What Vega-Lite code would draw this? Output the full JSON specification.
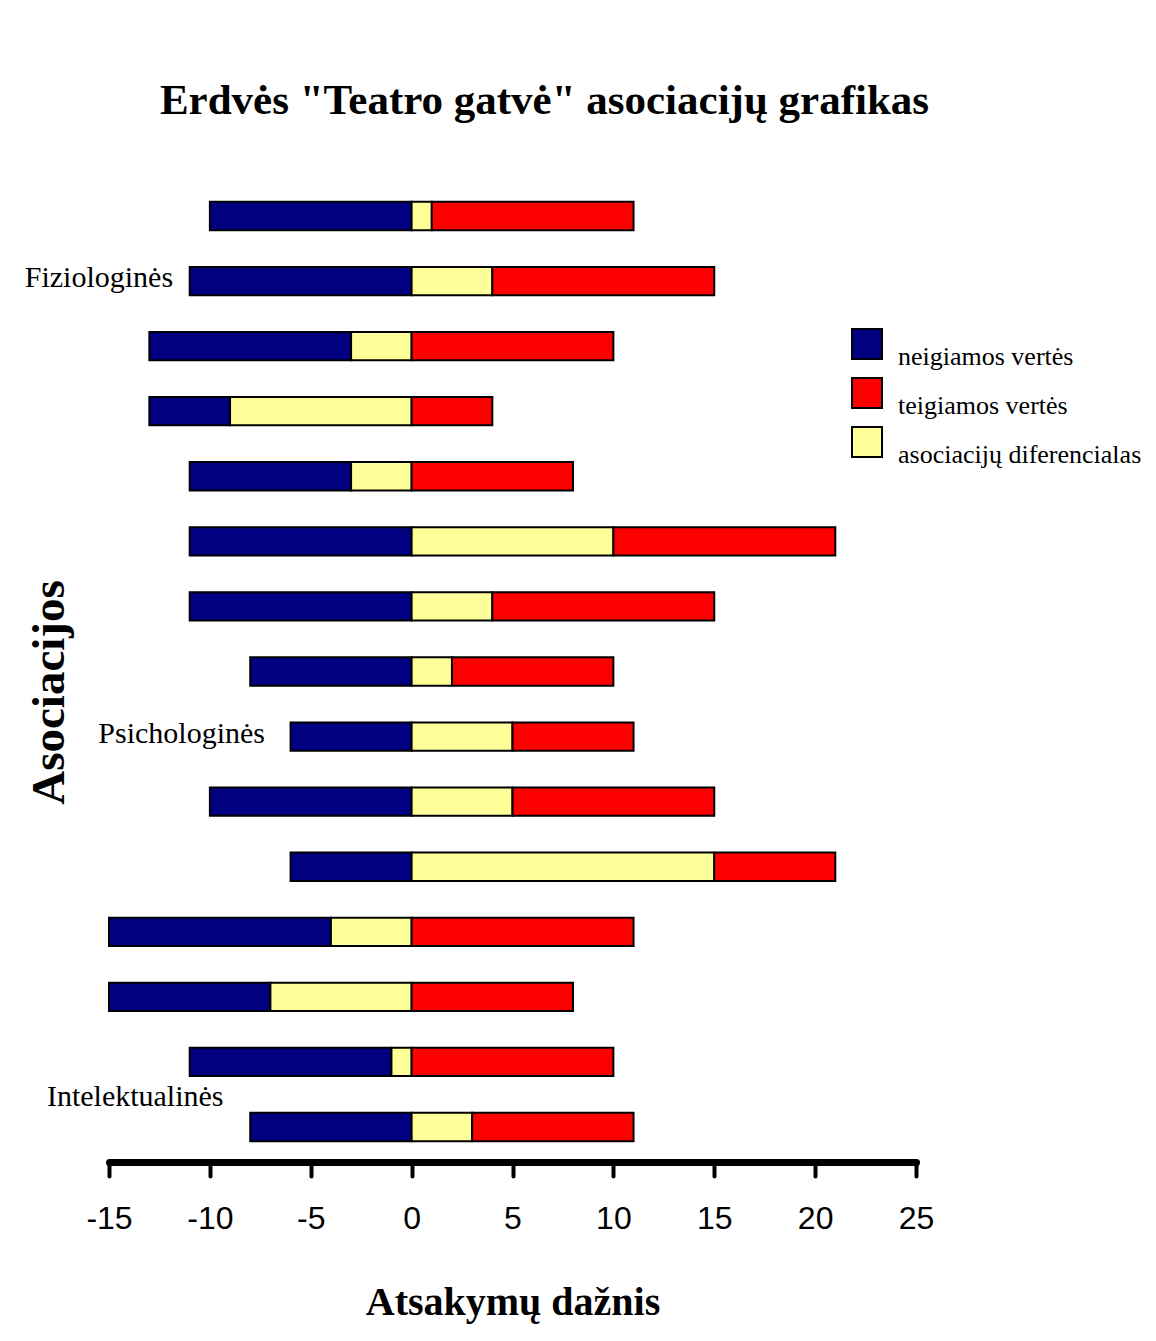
{
  "$schema": "https://vega.github.io/schema/vega-lite/v6.json",
  "width": 807,
  "height": 981,
  "autosize": "none",
  "padding": {"left": 109, "top": 181, "right": 240, "bottom": 179},
  "background": "white",
  "title": {
    "text": "Erdvės \"Teatro gatvė\" asociacijų grafikas",
    "font": "Liberation Serif",
    "fontSize": 43,
    "fontWeight": "bold",
    "color": "black",
    "anchor": "middle",
    "frame": "group",
    "dx": 32,
    "offset": 58
  },
  "datasets": {
    "bars": [
      {"r": 1, "s": "neigiamos vertės", "a": -10, "b": 0},
      {"r": 1, "s": "asociacijų diferencialas", "a": 0, "b": 1},
      {"r": 1, "s": "teigiamos vertės", "a": 1, "b": 11},
      {"r": 2, "s": "neigiamos vertės", "a": -11, "b": 0},
      {"r": 2, "s": "asociacijų diferencialas", "a": 0, "b": 4},
      {"r": 2, "s": "teigiamos vertės", "a": 4, "b": 15},
      {"r": 3, "s": "neigiamos vertės", "a": -13, "b": -3},
      {"r": 3, "s": "asociacijų diferencialas", "a": -3, "b": 0},
      {"r": 3, "s": "teigiamos vertės", "a": 0, "b": 10},
      {"r": 4, "s": "neigiamos vertės", "a": -13, "b": -9},
      {"r": 4, "s": "asociacijų diferencialas", "a": -9, "b": 0},
      {"r": 4, "s": "teigiamos vertės", "a": 0, "b": 4},
      {"r": 5, "s": "neigiamos vertės", "a": -11, "b": -3},
      {"r": 5, "s": "asociacijų diferencialas", "a": -3, "b": 0},
      {"r": 5, "s": "teigiamos vertės", "a": 0, "b": 8},
      {"r": 6, "s": "neigiamos vertės", "a": -11, "b": 0},
      {"r": 6, "s": "asociacijų diferencialas", "a": 0, "b": 10},
      {"r": 6, "s": "teigiamos vertės", "a": 10, "b": 21},
      {"r": 7, "s": "neigiamos vertės", "a": -11, "b": 0},
      {"r": 7, "s": "asociacijų diferencialas", "a": 0, "b": 4},
      {"r": 7, "s": "teigiamos vertės", "a": 4, "b": 15},
      {"r": 8, "s": "neigiamos vertės", "a": -8, "b": 0},
      {"r": 8, "s": "asociacijų diferencialas", "a": 0, "b": 2},
      {"r": 8, "s": "teigiamos vertės", "a": 2, "b": 10},
      {"r": 9, "s": "neigiamos vertės", "a": -6, "b": 0},
      {"r": 9, "s": "asociacijų diferencialas", "a": 0, "b": 5},
      {"r": 9, "s": "teigiamos vertės", "a": 5, "b": 11},
      {"r": 10, "s": "neigiamos vertės", "a": -10, "b": 0},
      {"r": 10, "s": "asociacijų diferencialas", "a": 0, "b": 5},
      {"r": 10, "s": "teigiamos vertės", "a": 5, "b": 15},
      {"r": 11, "s": "neigiamos vertės", "a": -6, "b": 0},
      {"r": 11, "s": "asociacijų diferencialas", "a": 0, "b": 15},
      {"r": 11, "s": "teigiamos vertės", "a": 15, "b": 21},
      {"r": 12, "s": "neigiamos vertės", "a": -15, "b": -4},
      {"r": 12, "s": "asociacijų diferencialas", "a": -4, "b": 0},
      {"r": 12, "s": "teigiamos vertės", "a": 0, "b": 11},
      {"r": 13, "s": "neigiamos vertės", "a": -15, "b": -7},
      {"r": 13, "s": "asociacijų diferencialas", "a": -7, "b": 0},
      {"r": 13, "s": "teigiamos vertės", "a": 0, "b": 8},
      {"r": 14, "s": "neigiamos vertės", "a": -11, "b": -1},
      {"r": 14, "s": "asociacijų diferencialas", "a": -1, "b": 0},
      {"r": 14, "s": "teigiamos vertės", "a": 0, "b": 10},
      {"r": 15, "s": "neigiamos vertės", "a": -8, "b": 0},
      {"r": 15, "s": "asociacijų diferencialas", "a": 0, "b": 3},
      {"r": 15, "s": "teigiamos vertės", "a": 3, "b": 11}
    ],
    "groups1": [
      {"t": "Fiziologinės", "r": 2, "x": -15.5},
      {"t": "Psichologinės", "r": 9, "x": -11.4}
    ],
    "groups2": [
      {"t": "Intelektualinės", "r": 15, "x": -13.7}
    ]
  },
  "layer": [
    {
      "data": {"name": "bars"},
      "mark": {"type": "bar", "stroke": "black", "strokeWidth": 2, "opacity": 1},
      "encoding": {
        "y": {
          "field": "r",
          "type": "ordinal",
          "scale": {"paddingInner": 0.565, "paddingOuter": 0.32},
          "axis": {
            "labels": false,
            "ticks": false,
            "domain": false,
            "grid": false,
            "title": "Asociacijos",
            "titleFont": "Liberation Serif",
            "titleFontSize": 47,
            "titleFontWeight": "bold",
            "titleColor": "black",
            "titleAngle": -90,
            "titleAlign": "center",
            "titleBaseline": "middle",
            "titleX": -60,
            "titleY": 511
          }
        },
        "x": {
          "field": "a",
          "type": "quantitative",
          "scale": {"domain": [-15, 25], "nice": false, "zero": false},
          "axis": {
            "values": [-15, -10, -5, 0, 5, 10, 15, 20, 25],
            "labelExpr": "datum.value < 0 ? '-' + abs(datum.value) : '' + datum.value",
            "grid": false,
            "domainColor": "black",
            "domainWidth": 7,
            "domainCap": "round",
            "tickColor": "black",
            "tickWidth": 4,
            "tickSize": 14,
            "tickCap": "round",
            "labelFont": "Liberation Sans",
            "labelFontSize": 32,
            "labelColor": "black",
            "labelBaseline": "alphabetic",
            "labelPadding": 52,
            "labelFlush": false,
            "labelOverlap": false,
            "title": "Atsakymų dažnis",
            "titleFont": "Liberation Serif",
            "titleFontSize": 40,
            "titleFontWeight": "bold",
            "titleColor": "black",
            "titleBaseline": "alphabetic",
            "titleY": 152
          }
        },
        "x2": {"field": "b"},
        "color": {
          "field": "s",
          "type": "nominal",
          "scale": {
            "domain": ["neigiamos vertės", "teigiamos vertės", "asociacijų diferencialas"],
            "range": ["#000080", "#FF0000", "#FFFF99"]
          },
          "legend": {
            "orient": "none",
            "legendX": 742,
            "legendY": 147,
            "title": null,
            "symbolType": "square",
            "symbolSize": 900,
            "symbolStrokeColor": "black",
            "symbolStrokeWidth": 2,
            "symbolOpacity": 1,
            "labelFont": "Liberation Serif",
            "labelFontSize": 26,
            "labelColor": "black",
            "labelBaseline": "top",
            "labelOffset": 15,
            "labelLimit": 400,
            "rowPadding": 4
          }
        }
      }
    },
    {
      "data": {"name": "groups1"},
      "mark": {"type": "text", "font": "Liberation Serif", "fontSize": 30, "color": "black", "align": "center", "baseline": "middle", "dy": -3},
      "encoding": {
        "x": {"field": "x", "type": "quantitative"},
        "y": {"field": "r", "type": "ordinal"},
        "text": {"field": "t"}
      }
    },
    {
      "data": {"name": "groups2"},
      "mark": {"type": "text", "font": "Liberation Serif", "fontSize": 30, "color": "black", "align": "center", "baseline": "middle", "dy": -30},
      "encoding": {
        "x": {"field": "x", "type": "quantitative"},
        "y": {"field": "r", "type": "ordinal"},
        "text": {"field": "t"}
      }
    },
    {
      "mark": {"type": "rule", "color": "black", "strokeWidth": 6, "strokeCap": "round"},
      "encoding": {"x": {"datum": 0}}
    }
  ],
  "config": {
    "view": {"stroke": null},
    "axis": {"grid": false}
  }
}
